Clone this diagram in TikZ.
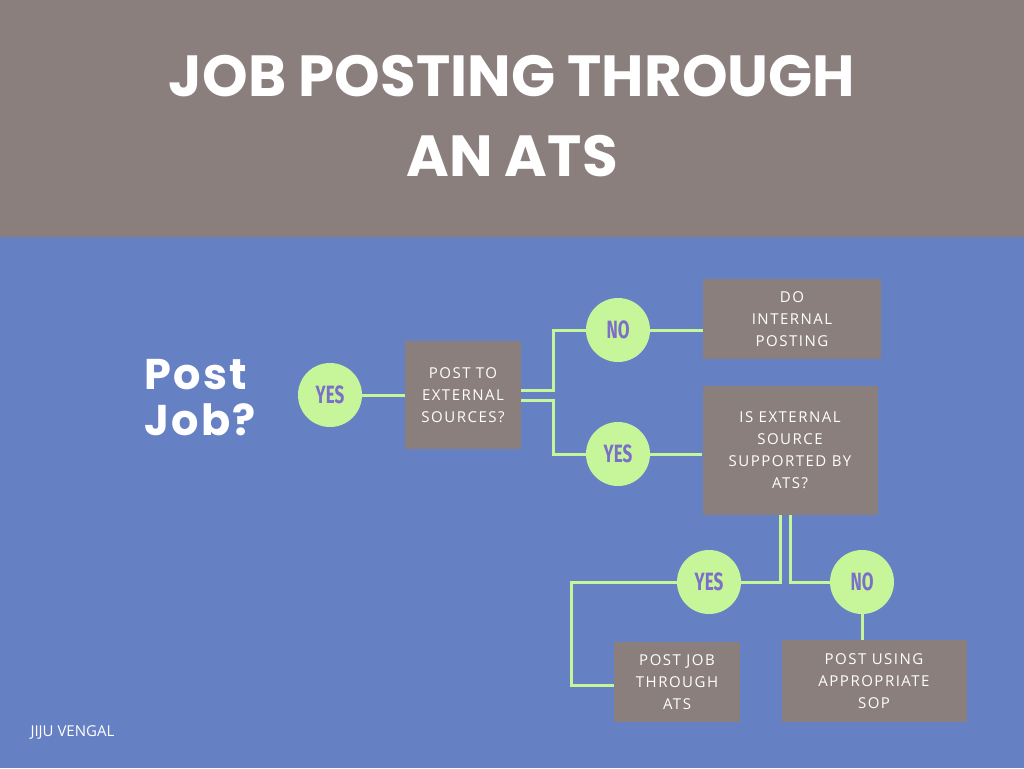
\documentclass[tikz,border=0pt]{standalone}
\usepackage{fontspec}
\setmainfont{Open Sans}
\newfontfamily\pop{Poppins}
\newfontfamily\fira{Fira Sans}
\definecolor{hdr}{HTML}{8A7F7D}
\definecolor{bg}{HTML}{6680C4}
\definecolor{grn}{HTML}{C6F59A}
\definecolor{pur}{HTML}{7B6FC8}
\tikzset{
 box/.style={fill=hdr,text=white,align=center,font=\fontsize{15}{22}\selectfont\addfontfeature{LetterSpace=10},inner sep=0pt},
 circ/.style={circle,fill=grn,minimum size=64pt,inner sep=0pt,text=pur,font=\fira\bfseries\fontsize{25}{26}\selectfont},
 ln/.style={grn,line width=3pt}
}
\newcommand{\cnd}[1]{\scalebox{0.68}[1]{#1}}
\begin{document}
\begin{tikzpicture}[x=1pt,y=-1pt]
\useasboundingbox (0,0) rectangle (1024,768);
\fill[bg] (0,0) rectangle (1024,768);
\fill[hdr] (0,0) rectangle (1024,237);
\node[text=white,font=\pop\bfseries\fontsize{58}{80}\selectfont,align=center] (title) at (512,116) {JOB POSTING THROUGH\\AN ATS};
\node[text=white,font=\pop\bfseries\fontsize{43}{46}\selectfont,align=left] (pj) at (200,398) {\addfontfeature{LetterSpace=5}Post\\\addfontfeature{LetterSpace=5}Job?};
\node[circ] (c1) at (330,395) {\cnd{YES}};
\node[circ] (c2) at (618,330) {\cnd{NO}};
\node[circ] (c3) at (618,454) {\cnd{YES}};
\node[circ] (c4) at (709,582) {\cnd{YES}};
\node[circ] (c5) at (862,582) {\cnd{NO}};
\node[box,minimum width=116pt,minimum height=108pt] (b1) at (463,395) {POST TO\\EXTERNAL\\SOURCES?};
\node[box,minimum width=178pt,minimum height=80pt] (b2) at (792,319) {DO\\INTERNAL\\POSTING};
\node[box,minimum width=175pt,minimum height=129pt] (b3) at (790,450) {IS EXTERNAL\\SOURCE\\SUPPORTED BY\\ATS?};
\node[box,minimum width=126pt,minimum height=80pt] (b4) at (677,682) {POST JOB\\THROUGH\\ATS};
\node[box,minimum width=185pt,minimum height=82pt] (b5) at (874,681) {POST USING\\APPROPRIATE\\SOP};
\draw[ln] (c1.east) -- (b1.west|-c1);
\draw[ln] (b1.east|-0,390) -- (553,390) -- (553,330) -- (c2.west);
\draw[ln] (b1.east|-0,400) -- (553,400) -- (553,454) -- (c3.west);
\draw[ln] (c2.east) -- (b2.west|-c2);
\draw[ln] (c3.east) -- (b3.west|-c3);
\draw[ln] (780,515) -- (780,582) -- (c4.east);
\draw[ln] (c4.west) -- (571,582) -- (571,685) -- (b4.west|-0,685);
\draw[ln] (790,515) -- (790,582) -- (c5.west);
\draw[ln] (c5.south) -- (b5.north-|c5);
\node[text=white,font=\fontsize{15}{16}\selectfont,anchor=west] (au) at (27,732) {JIJU VENGAL};
\end{tikzpicture}
\end{document}
